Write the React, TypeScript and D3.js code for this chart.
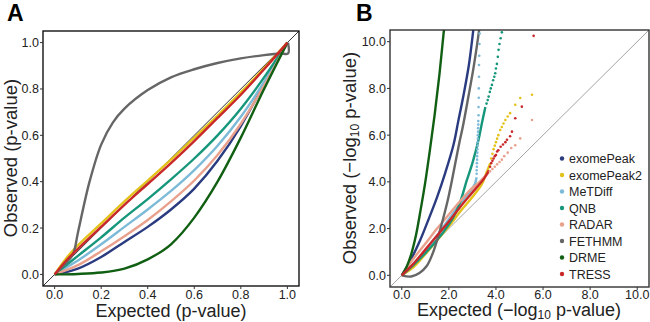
import React from "react";
import * as d3 from "d3";

const methods = ["exomePeak", "exomePeak2", "MeTDiff", "QNB", "RADAR", "FETHMM", "DRME", "TRESS"];
const colors = ["#2a3b80", "#e3c21c", "#7cbad8", "#16967a", "#e9a08c", "#666666", "#105f12", "#c9282b"];

// Panel A: QQ of p-values (expected, observed)
const aExomePeak = [[0,0],[0.05,0.01],[0.1,0.025],[0.2,0.075],[0.3,0.14],[0.4,0.205],[0.5,0.28],[0.6,0.37],[0.7,0.49],[0.8,0.64],[0.9,0.82],[0.95,0.91],[1,1]];
const aExomePeak2 = [[0,0],[0.05,0.07],[0.1,0.125],[0.2,0.22],[0.3,0.315],[0.4,0.405],[0.5,0.495],[0.6,0.59],[0.7,0.685],[0.8,0.785],[0.9,0.89],[1,1]];
const aMeTDiff = [[0,0],[0.05,0.03],[0.1,0.06],[0.2,0.13],[0.3,0.205],[0.4,0.28],[0.5,0.36],[0.6,0.45],[0.7,0.555],[0.8,0.68],[0.9,0.83],[1,1]];
const aQNB = [[0,0],[0.05,0.04],[0.1,0.08],[0.2,0.16],[0.3,0.245],[0.4,0.325],[0.5,0.41],[0.6,0.5],[0.7,0.6],[0.8,0.715],[0.9,0.85],[1,1]];
const aRADAR = [[0,0],[0.05,0.018],[0.1,0.04],[0.2,0.1],[0.3,0.165],[0.4,0.235],[0.5,0.315],[0.6,0.405],[0.7,0.515],[0.8,0.65],[0.9,0.815],[0.95,0.905],[1,1]];
const aFETHMM = [[0,0],[0.05,0.05],[0.08,0.09],[0.1,0.18],[0.15,0.4],[0.2,0.56],[0.25,0.655],[0.3,0.715],[0.4,0.795],[0.5,0.85],[0.6,0.885],[0.7,0.912],[0.8,0.932],[0.9,0.946],[0.97,0.953],[1.003,0.953],[1.003,1.0]];
const aDRME = [[0,0],[0.1,0.002],[0.2,0.008],[0.3,0.025],[0.4,0.065],[0.5,0.13],[0.6,0.245],[0.7,0.4],[0.8,0.59],[0.9,0.8],[0.95,0.9],[1,1]];
const aTRESS = [[0,0],[0.05,0.06],[0.1,0.11],[0.2,0.205],[0.3,0.3],[0.4,0.39],[0.5,0.48],[0.6,0.575],[0.7,0.675],[0.8,0.775],[0.9,0.885],[1,1]];
const aSeries = [aExomePeak, aExomePeak2, aMeTDiff, aQNB, aRADAR, aFETHMM, aDRME, aTRESS];

// Panel B: -log10 QQ, dense part (line) and sparse tail (dots)
const bExomePeakLine = [[0,0],[0.4,0.7],[0.78,1.5],[1.1,2.3],[1.5,3.35],[1.85,4.4],[2.2,5.6],[2.4,6.6],[2.62,7.7],[2.85,9.0],[3.05,10.6],[3.1,11]];
const bExomePeak2Line = [[0,0],[0.5,0.35],[1.0,0.9],[1.5,1.5],[2.0,2.1],[2.5,2.75],[3.0,3.35],[3.4,3.9],[3.6,4.4],[3.76,4.8]];
const bExomePeak2Dots = [[3.8,5.0],[3.85,5.2],[3.9,5.4],[3.95,5.55],[4.0,5.7],[4.05,5.85],[4.1,6.0],[4.18,6.22],[4.25,6.35],[4.32,6.5],[4.4,6.65],[4.5,6.8],[4.6,6.94],[4.82,7.3],[5.03,7.59],[5.53,7.73]];
const bMeTDiffLine = [[0,0],[0.5,0.5],[1.0,1.05],[1.5,1.7],[2.0,2.4],[2.5,3.1],[2.9,3.6],[3.1,3.9],[3.18,4.2]];
const bMeTDiffDots = [[3.18,4.35],[3.18,4.5],[3.19,4.65],[3.19,4.8],[3.2,4.95],[3.2,5.1],[3.21,5.25],[3.21,5.4],[3.22,5.55],[3.22,5.7],[3.23,5.85],[3.23,6.0],[3.24,6.15],[3.24,6.3],[3.25,6.45],[3.25,6.6],[3.26,6.85],[3.26,7.2],[3.27,7.6],[3.27,8.0],[3.28,8.5],[3.28,9.0],[3.29,9.4],[3.3,9.9],[3.31,10.35]];
const bQNBLine = [[0,0],[0.5,0.45],[1.0,0.95],[1.35,1.34],[1.8,1.9],[2.2,2.5],[2.5,3.2],[2.76,4.06],[3.0,4.8],[3.26,5.8],[3.4,6.5],[3.55,7.2]];
const bQNBDots = [[3.6,7.35],[3.65,7.5],[3.69,7.65],[3.74,7.85],[3.78,8.0],[3.83,8.15],[3.88,8.35],[3.93,8.5],[3.97,8.65],[4.0,8.85],[4.04,9.05],[4.08,9.35],[4.11,9.65],[4.15,9.9],[4.2,10.15],[4.25,10.4]];
const bRADARLine = [[0,0],[0.3,0.45],[0.6,0.85],[1.0,1.35],[1.5,2.0],[2.0,2.6],[2.5,3.2],[2.9,3.65],[3.2,3.9],[3.5,4.2],[3.7,4.4]];
const bRADARDots = [[3.75,4.45],[3.85,4.55],[3.95,4.65],[4.05,4.75],[4.15,4.85],[4.25,4.95],[4.35,5.1],[4.5,5.25],[4.65,5.45],[4.82,5.57],[5.03,5.86],[5.53,6.65]];
const bFETHMMLine = [[0,0],[0.4,-0.05],[0.75,0.1],[1.06,0.4],[1.3,0.9],[1.5,1.5],[1.75,2.4],[1.95,3.2],[2.13,4.06],[2.41,5.5],[2.62,6.5],[2.83,7.65],[3.05,8.9],[3.3,10.6],[3.35,11]];
const bDRMELine = [[0,0],[0.2,0.35],[0.4,0.9],[0.6,1.7],[0.8,2.8],[1.0,4.0],[1.2,5.4],[1.4,6.9],[1.6,8.6],[1.8,10.6],[1.85,11]];
const bTRESSLine = [[0,0],[0.5,0.5],[1.0,1.1],[1.5,1.7],[2.0,2.3],[2.5,2.95],[3.0,3.55],[3.5,4.15],[3.7,4.5]];
const bTRESSDots = [[3.75,4.65],[3.8,4.8],[3.85,4.9],[3.9,5.0],[3.95,5.1],[4.0,5.15],[4.05,5.3],[4.1,5.35],[4.2,5.5],[4.3,5.6],[4.4,5.7],[4.47,5.8],[4.6,5.95],[4.68,6.15],[4.82,6.72],[5.1,7.22],[5.6,10.25]];
const bLines = [bExomePeakLine, bExomePeak2Line, bMeTDiffLine, bQNBLine, bRADARLine, bFETHMMLine, bDRMELine, bTRESSLine];
const bDots = [[], bExomePeak2Dots, bMeTDiffDots, bQNBDots, bRADARDots, [], [], bTRESSDots];

const aTicks = [0, 0.2, 0.4, 0.6, 0.8, 1.0];
const bTicks = [0, 2, 4, 6, 8, 10];

const FONT = "'Liberation Sans', Arial, Helvetica, sans-serif";

export default function App() {
  const ax = d3.scaleLinear().domain([-0.05, 1.05]).range([43, 299]);
  const ay = d3.scaleLinear().domain([-0.05, 1.05]).range([286, 31]);
  const bx = d3.scaleLinear().domain([-0.5, 10.5]).range([390, 649]);
  const by = d3.scaleLinear().domain([-0.5, 10.5]).range([287, 30]);

  const aLine = d3.line<number[]>().x(d => ax(d[0])).y(d => ay(d[1])).curve(d3.curveMonotoneX);
  const aLineLinear = d3.line<number[]>().x(d => ax(d[0])).y(d => ay(d[1])).curve(d3.curveCatmullRom);
  const bLine = d3.line<number[]>().x(d => bx(d[0])).y(d => by(d[1])).curve(d3.curveCatmullRom);

  return (
    <svg width={650} height={322} style={{ position: "absolute", left: 0, top: 0, background: "#fff" }} fontFamily={FONT}>
      <defs>
        <clipPath id="clipA"><rect x={43} y={31} width={256} height={255} /></clipPath>
        <clipPath id="clipB"><rect x={390} y={30} width={259} height={257} /></clipPath>
      </defs>

      {/* Panel A */}
      <text x={7} y={21} fontSize={23} fontWeight="bold" fill="#000">A</text>
      <g clipPath="url(#clipA)">
        <line x1={ax(-0.05)} y1={ay(-0.05)} x2={ax(1.05)} y2={ay(1.05)} stroke="#000" strokeWidth={0.8} />
        {aSeries.map((s, i) => (
          <path key={i} d={(i === 5 ? aLineLinear(s) : aLine(s)) || ""} fill="none" stroke={colors[i]} strokeWidth={2.4} strokeLinejoin="round" />
        ))}
      </g>
      <rect x={43} y={31} width={256} height={255} fill="none" stroke="#000" strokeWidth={1.3} />
      {aTicks.map(t => (
        <g key={"ax" + t}>
          <line x1={ax(t)} x2={ax(t)} y1={286} y2={289} stroke="#333" />
          <text x={ax(t)} y={298.5} fontSize={12.5} textAnchor="middle" fill="#222">{t.toFixed(1)}</text>
          <line x1={40} x2={43} y1={ay(t)} y2={ay(t)} stroke="#333" />
          <text x={39} y={ay(t) + 4.5} fontSize={12.5} textAnchor="end" fill="#222">{t.toFixed(1)}</text>
        </g>
      ))}
      <text x={171} y={317} fontSize={18} textAnchor="middle" fill="#222">Expected (p-value)</text>
      <text transform={`translate(17,158) rotate(-90)`} fontSize={18.5} textAnchor="middle" fill="#222">Observed (p-value)</text>

      {/* Panel B */}
      <text x={356} y={21} fontSize={23} fontWeight="bold" fill="#000">B</text>
      <g clipPath="url(#clipB)">
        <line x1={bx(-0.5)} y1={by(-0.5)} x2={bx(10.5)} y2={by(10.5)} stroke="#9a9a9a" strokeWidth={0.9} />
        {bLines.map((s, i) => (
          <path key={i} d={bLine(s) || ""} fill="none" stroke={colors[i]} strokeWidth={2.4} strokeLinejoin="round" />
        ))}
        {bDots.map((s, i) => s.map((d, j) => (
          <circle key={i + "-" + j} cx={bx(d[0])} cy={by(d[1])} r={1.3} fill={colors[i]} />
        )))}
      </g>
      <rect x={390} y={30} width={259} height={257} fill="none" stroke="#333" strokeWidth={1.4} />
      {bTicks.map(t => (
        <g key={"bx" + t}>
          <line x1={bx(t)} x2={bx(t)} y1={287} y2={290} stroke="#333" />
          <text x={bx(t)} y={298.5} fontSize={12.5} textAnchor="middle" fill="#222">{t.toFixed(1)}</text>
          <line x1={387} x2={390} y1={by(t)} y2={by(t)} stroke="#333" />
          <text x={386} y={by(t) + 4.5} fontSize={12.5} textAnchor="end" fill="#222">{t.toFixed(1)}</text>
        </g>
      ))}
      <text x={519} y={316} fontSize={18} textAnchor="middle" fill="#222">
        Expected (−log<tspan fontSize={12} dy={3}>10</tspan><tspan dy={-3}> p-value)</tspan>
      </text>
      <text transform={`translate(356,158) rotate(-90)`} fontSize={18.5} textAnchor="middle" fill="#222">
        Observed (−log<tspan fontSize={12} dy={3}>10</tspan><tspan dy={-3}> p-value)</tspan>
      </text>

      {/* Legend */}
      {methods.map((m, i) => (
        <g key={m}>
          <circle cx={562} cy={158.5 + i * 16.5} r={2.2} fill={colors[i]} />
          <text x={569} y={158.5 + i * 16.5 + 4.5} fontSize={12.5} fill="#222">{m}</text>
        </g>
      ))}
    </svg>
  );
}
